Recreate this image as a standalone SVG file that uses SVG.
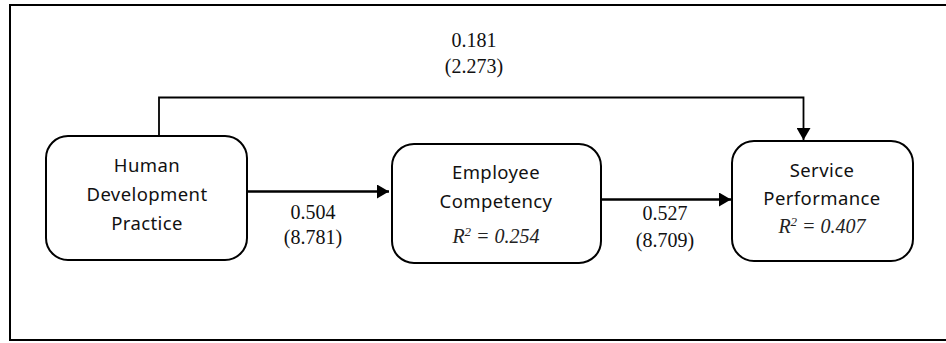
<svg xmlns="http://www.w3.org/2000/svg" width="946" height="343" viewBox="0 0 946 343">
<defs>
<style>
.node rect{fill:#fff;stroke:#000;stroke-width:2}
.lbl{font-family:"Noto Sans","Liberation Sans",sans-serif;font-size:18.5px;fill:#111;text-anchor:middle;letter-spacing:0.4px}
.r2{font-family:"Liberation Serif","Times New Roman",serif;font-style:italic;font-size:20px;fill:#222;text-anchor:middle}
.coef{font-family:"Liberation Serif","Times New Roman",serif;font-size:20px;fill:#111;text-anchor:middle}
.edge{fill:none;stroke:#000}
</style>
<marker id="ah" markerUnits="userSpaceOnUse" markerWidth="13" markerHeight="14" refX="12" refY="7" orient="auto">
<path d="M0,0 L12,7 L0,14 Z" fill="#000"/>
</marker>
</defs>
<rect x="10" y="5" width="945" height="335" fill="#fff" stroke="#000" stroke-width="2"/>
<g id="connectors">
<path class="edge" d="M247,191.5 H389" stroke-width="2.5" marker-end="url(#ah)"/>
<path class="edge" d="M601,199.5 H731" stroke-width="2.5" marker-end="url(#ah)"/>
<path class="edge" d="M159,137 V97.5 H803.5 V140" stroke-width="1.8" marker-end="url(#ah)"/>
</g>
<g id="node-hdp" class="node">
<rect x="46" y="136" width="201" height="124" rx="22"/>
<text class="lbl" x="147" y="172">Human</text>
<text class="lbl" x="147" y="201">Development</text>
<text class="lbl" x="147" y="230">Practice</text>
</g>
<g id="node-ec" class="node">
<rect x="392" y="144" width="209" height="119" rx="22"/>
<text class="lbl" x="496" y="179">Employee</text>
<text class="lbl" x="496" y="208">Competency</text>
<text class="r2" x="496" y="243">R<tspan font-size="13" dy="-7">2</tspan><tspan dy="7"> = 0.254</tspan></text>
</g>
<g id="node-sp" class="node">
<rect x="732" y="141" width="181" height="120" rx="22"/>
<text class="lbl" x="822" y="177">Service</text>
<text class="lbl" x="822" y="205">Performance</text>
<text class="r2" x="822" y="233">R<tspan font-size="13" dy="-7">2</tspan><tspan dy="7"> = 0.407</tspan></text>
</g>
<g id="edge-labels">
<text class="coef" x="474" y="47">0.181</text>
<text class="coef" x="474" y="73">(2.273)</text>
<text class="coef" x="313" y="219">0.504</text>
<text class="coef" x="313" y="244">(8.781)</text>
<text class="coef" x="665" y="220">0.527</text>
<text class="coef" x="665" y="247">(8.709)</text>
</g>
</svg>
